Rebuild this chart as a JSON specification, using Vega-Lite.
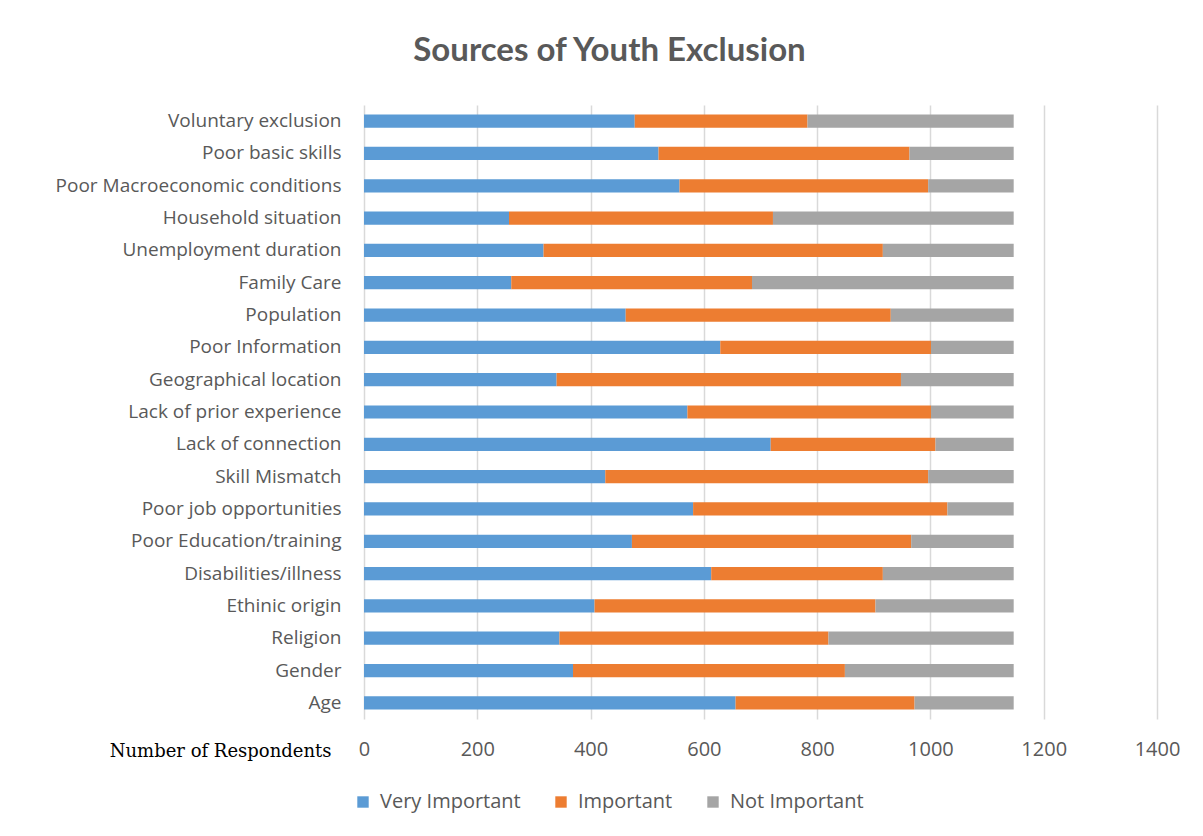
{
  "$schema": "https://vega.github.io/schema/vega-lite/v6.json",
  "autosize": {"type": "none"},
  "width": 793,
  "height": 614,
  "padding": {"left": 364, "top": 105, "right": 46, "bottom": 117},
  "background": "white",
  "title": {
    "text": "Sources of Youth Exclusion",
    "font": "Lato",
    "fontSize": 33,
    "fontWeight": "bold",
    "color": "#595959",
    "anchor": "middle",
    "dx": -151,
    "offset": 37
  },
  "data": {
    "values": [
      {"source": "Voluntary exclusion", "rating": "Very Important", "rank": 1, "count": 478},
      {"source": "Voluntary exclusion", "rating": "Important", "rank": 2, "count": 305},
      {"source": "Voluntary exclusion", "rating": "Not Important", "rank": 3, "count": 364},
      {"source": "Poor basic skills", "rating": "Very Important", "rank": 1, "count": 520},
      {"source": "Poor basic skills", "rating": "Important", "rank": 2, "count": 443},
      {"source": "Poor basic skills", "rating": "Not Important", "rank": 3, "count": 184},
      {"source": "Poor Macroeconomic conditions", "rating": "Very Important", "rank": 1, "count": 557},
      {"source": "Poor Macroeconomic conditions", "rating": "Important", "rank": 2, "count": 439},
      {"source": "Poor Macroeconomic conditions", "rating": "Not Important", "rank": 3, "count": 151},
      {"source": "Household situation", "rating": "Very Important", "rank": 1, "count": 256},
      {"source": "Household situation", "rating": "Important", "rank": 2, "count": 466},
      {"source": "Household situation", "rating": "Not Important", "rank": 3, "count": 425},
      {"source": "Unemployment duration", "rating": "Very Important", "rank": 1, "count": 317},
      {"source": "Unemployment duration", "rating": "Important", "rank": 2, "count": 599},
      {"source": "Unemployment duration", "rating": "Not Important", "rank": 3, "count": 231},
      {"source": "Family Care", "rating": "Very Important", "rank": 1, "count": 260},
      {"source": "Family Care", "rating": "Important", "rank": 2, "count": 425},
      {"source": "Family Care", "rating": "Not Important", "rank": 3, "count": 462},
      {"source": "Population", "rating": "Very Important", "rank": 1, "count": 462},
      {"source": "Population", "rating": "Important", "rank": 2, "count": 468},
      {"source": "Population", "rating": "Not Important", "rank": 3, "count": 217},
      {"source": "Poor Information", "rating": "Very Important", "rank": 1, "count": 629},
      {"source": "Poor Information", "rating": "Important", "rank": 2, "count": 372},
      {"source": "Poor Information", "rating": "Not Important", "rank": 3, "count": 146},
      {"source": "Geographical location", "rating": "Very Important", "rank": 1, "count": 340},
      {"source": "Geographical location", "rating": "Important", "rank": 2, "count": 608},
      {"source": "Geographical location", "rating": "Not Important", "rank": 3, "count": 199},
      {"source": "Lack of prior experience", "rating": "Very Important", "rank": 1, "count": 571},
      {"source": "Lack of prior experience", "rating": "Important", "rank": 2, "count": 430},
      {"source": "Lack of prior experience", "rating": "Not Important", "rank": 3, "count": 146},
      {"source": "Lack of connection", "rating": "Very Important", "rank": 1, "count": 718},
      {"source": "Lack of connection", "rating": "Important", "rank": 2, "count": 291},
      {"source": "Lack of connection", "rating": "Not Important", "rank": 3, "count": 138},
      {"source": "Skill Mismatch", "rating": "Very Important", "rank": 1, "count": 426},
      {"source": "Skill Mismatch", "rating": "Important", "rank": 2, "count": 570},
      {"source": "Skill Mismatch", "rating": "Not Important", "rank": 3, "count": 151},
      {"source": "Poor job opportunities", "rating": "Very Important", "rank": 1, "count": 581},
      {"source": "Poor job opportunities", "rating": "Important", "rank": 2, "count": 449},
      {"source": "Poor job opportunities", "rating": "Not Important", "rank": 3, "count": 117},
      {"source": "Poor Education/training", "rating": "Very Important", "rank": 1, "count": 473},
      {"source": "Poor Education/training", "rating": "Important", "rank": 2, "count": 493},
      {"source": "Poor Education/training", "rating": "Not Important", "rank": 3, "count": 181},
      {"source": "Disabilities/illness", "rating": "Very Important", "rank": 1, "count": 613},
      {"source": "Disabilities/illness", "rating": "Important", "rank": 2, "count": 303},
      {"source": "Disabilities/illness", "rating": "Not Important", "rank": 3, "count": 231},
      {"source": "Ethinic origin", "rating": "Very Important", "rank": 1, "count": 407},
      {"source": "Ethinic origin", "rating": "Important", "rank": 2, "count": 496},
      {"source": "Ethinic origin", "rating": "Not Important", "rank": 3, "count": 244},
      {"source": "Religion", "rating": "Very Important", "rank": 1, "count": 345},
      {"source": "Religion", "rating": "Important", "rank": 2, "count": 475},
      {"source": "Religion", "rating": "Not Important", "rank": 3, "count": 327},
      {"source": "Gender", "rating": "Very Important", "rank": 1, "count": 369},
      {"source": "Gender", "rating": "Important", "rank": 2, "count": 480},
      {"source": "Gender", "rating": "Not Important", "rank": 3, "count": 298},
      {"source": "Age", "rating": "Very Important", "rank": 1, "count": 656},
      {"source": "Age", "rating": "Important", "rank": 2, "count": 316},
      {"source": "Age", "rating": "Not Important", "rank": 3, "count": 175}
    ]
  },
  "mark": {"type": "bar"},
  "encoding": {
    "y": {
      "field": "source",
      "type": "nominal",
      "sort": null,
      "scale": {"paddingInner": 0.59, "paddingOuter": 0.295},
      "axis": {
        "title": null,
        "domain": false,
        "ticks": false,
        "grid": false,
        "labelFont": "Open Sans",
        "labelFontSize": 19,
        "labelColor": "#595959",
        "labelPadding": 23,
        "labelLimit": 0
      }
    },
    "x": {
      "field": "count",
      "type": "quantitative",
      "stack": "zero",
      "scale": {"domain": [0, 1400], "nice": false},
      "axis": {
        "values": [0, 200, 400, 600, 800, 1000, 1200, 1400],
        "format": "d",
        "labelFlush": false,
        "title": "Number of Respondents",
        "titleFont": "DejaVu Serif",
        "titleFontSize": 18,
        "titleFontWeight": "normal",
        "titleColor": "#000000",
        "titleAnchor": "start",
        "titleAlign": "right",
        "titleBaseline": "alphabetic",
        "titleX": -33,
        "titleY": 37,
        "domain": false,
        "ticks": false,
        "grid": true,
        "gridColor": "#d9d9d9",
        "gridWidth": 1.5,
        "labelFont": "Open Sans",
        "labelFontSize": 20,
        "labelColor": "#595959",
        "labelPadding": 20
      }
    },
    "color": {
      "field": "rating",
      "type": "nominal",
      "scale": {
        "domain": ["Very Important", "Important", "Not Important"],
        "range": ["#5B9BD5", "#ED7D31", "#A5A5A5"]
      },
      "legend": {
        "title": null,
        "orient": "none",
        "direction": "horizontal",
        "legendX": -11,
        "legendY": 687,
        "symbolType": "square",
        "symbolSize": 130,
        "symbolStrokeWidth": 0,
        "labelFont": "Open Sans",
        "labelFontSize": 20,
        "labelColor": "#595959",
        "labelOffset": 7,
        "columnPadding": 30
      }
    },
    "order": {"field": "rank", "type": "quantitative"}
  },
  "config": {
    "view": {"stroke": null}
  }
}
